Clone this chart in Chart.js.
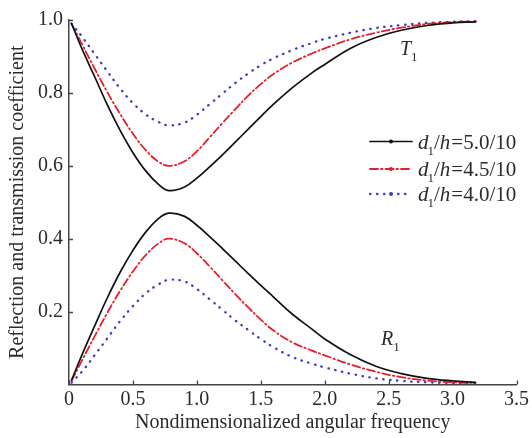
<!DOCTYPE html>
<html>
<head>
<meta charset="utf-8">
<script src="https://cdn.jsdelivr.net/npm/chart.js@4/dist/chart.umd.min.js"></script>
<style>
  body { margin: 0; background: #fff; }
  canvas { display: block; }
</style>
</head>
<body>
<canvas id="coefChart" width="532" height="438"></canvas>
<script>
// frequency samples (x axis)
const freq = [0.02, 0.1, 0.2, 0.3, 0.4, 0.5, 0.6, 0.7, 0.78, 0.9, 1.0, 1.1, 1.2, 1.3,
  1.4, 1.5, 1.6, 1.75, 1.9, 2.0, 2.2, 2.4, 2.6, 2.8, 3.0, 3.18];

// transmission T1
const t50 = [0.99, 0.922, 0.845, 0.767, 0.697, 0.636, 0.586, 0.549, 0.532, 0.541, 0.566, 0.597,
  0.630, 0.665, 0.70, 0.735, 0.769, 0.815, 0.855, 0.878, 0.922, 0.952, 0.972, 0.985, 0.992, 0.995];
const t45 = [0.99, 0.935, 0.867, 0.802, 0.742, 0.688, 0.643, 0.611, 0.600, 0.612, 0.640, 0.678,
  0.717, 0.755, 0.792, 0.824, 0.852, 0.884, 0.908, 0.922, 0.947, 0.965, 0.979, 0.989, 0.994, 0.996];
const t40 = [0.99, 0.955, 0.907, 0.859, 0.812, 0.772, 0.741, 0.720, 0.711, 0.718, 0.740, 0.769,
  0.798, 0.827, 0.853, 0.876, 0.895, 0.918, 0.937, 0.948, 0.965, 0.978, 0.986, 0.992, 0.995, 0.997];

// reflection R1
const r50 = [0.012, 0.08, 0.16, 0.238, 0.308, 0.368, 0.418, 0.455, 0.470, 0.462, 0.437, 0.406,
  0.373, 0.339, 0.305, 0.272, 0.240, 0.192, 0.152, 0.125, 0.082, 0.050, 0.030, 0.017, 0.010, 0.006];
const r45 = [0.01, 0.065, 0.132, 0.197, 0.257, 0.310, 0.355, 0.387, 0.400, 0.388, 0.360, 0.324,
  0.286, 0.248, 0.212, 0.178, 0.148, 0.115, 0.093, 0.080, 0.055, 0.035, 0.020, 0.011, 0.006, 0.004];
const r40 = [0.005, 0.035, 0.08, 0.127, 0.174, 0.215, 0.250, 0.275, 0.287, 0.283, 0.262, 0.234,
  0.205, 0.176, 0.150, 0.125, 0.102, 0.075, 0.057, 0.047, 0.030, 0.017, 0.010, 0.006, 0.004, 0.003];

const xTicks = [0, 0.5, 1.0, 1.5, 2.0, 2.5, 3.0, 3.5];
const yTicks = [0.2, 0.4, 0.6, 0.8, 1.0];
const ratios = ['5.0/10', '4.5/10', '4.0/10'];

const SERIF = '"Liberation Serif", "DejaVu Serif", serif';
const INK = '#2b2b2b';
const styles = [
  { color: '#111111', dash: [], width: 1.7 },
  { color: '#e5202e', dash: [8, 3, 1.5, 3], width: 1.8 },
  { color: '#3a3fc4', dash: [0.5, 6.5], width: 2.3 },
];

const pts = arr => freq.map((x, i) => ({ x: x, y: arr[i] }));

function mkSet(arr, s) {
  return {
    data: pts(arr),
    borderColor: s.color,
    borderDash: s.dash,
    borderWidth: s.width,
    borderCapStyle: 'round',
    pointRadius: 0,
    fill: false,
    tension: 0.4,
  };
}

// inward tick marks, curve labels and the legend
const decorations = {
  id: 'decorations',
  afterDraw(chart) {
    const { ctx, chartArea: a, scales: { x, y } } = chart;
    ctx.save();
    ctx.strokeStyle = '#444';
    ctx.lineWidth = 1.3;
    ctx.beginPath();
    xTicks.forEach(v => {
      const px = Math.round(x.getPixelForValue(v)) + 0.5;
      ctx.moveTo(px, a.bottom);
      ctx.lineTo(px, a.bottom - 4);
    });
    yTicks.forEach(v => {
      const py = Math.round(y.getPixelForValue(v)) + 0.5;
      ctx.moveTo(a.left, py);
      ctx.lineTo(a.left + 4, py);
    });
    ctx.stroke();

    ctx.fillStyle = INK;
    ctx.textBaseline = 'alphabetic';
    const sym = (letter, px, py) => {
      ctx.font = 'italic 20px ' + SERIF;
      ctx.fillText(letter, px, py);
      const w = ctx.measureText(letter).width;
      ctx.font = '13px ' + SERIF;
      ctx.fillText('1', px + w, py + 6);
    };
    sym('T', 400, 55);
    sym('R', 381, 345);

    // legend
    const rowY = [141.5, 169, 194];
    styles.forEach((s, i) => {
      const ly = rowY[i];
      ctx.strokeStyle = s.color;
      ctx.lineWidth = s.width;
      ctx.setLineDash(s.dash);
      ctx.lineCap = 'round';
      ctx.beginPath();
      ctx.moveTo(370, ly);
      ctx.lineTo(412, ly);
      ctx.stroke();
      ctx.setLineDash([]);
      ctx.fillStyle = s.color;
      ctx.beginPath();
      ctx.arc(391, ly, 2, 0, Math.PI * 2);
      ctx.fill();

      ctx.fillStyle = INK;
      let tx = 418;
      const base = ly + 7;
      ctx.font = 'italic 21px ' + SERIF;
      ctx.fillText('d', tx, base);
      tx += ctx.measureText('d').width;
      ctx.font = '13px ' + SERIF;
      ctx.fillText('1', tx - 1, base + 6);
      tx += ctx.measureText('1').width - 1;
      ctx.font = '21px ' + SERIF;
      ctx.fillText('/', tx, base);
      tx += ctx.measureText('/').width;
      ctx.font = 'italic 21px ' + SERIF;
      ctx.fillText('h', tx, base);
      tx += ctx.measureText('h').width + 1;
      ctx.font = '21px ' + SERIF;
      ctx.fillText('=' + ratios[i], tx, base);
    });
    ctx.restore();
  },
};

const ctx = document.getElementById('coefChart');
const coefChart = new Chart(ctx, {
  type: 'line',
  data: {
    datasets: [
      mkSet(t50, styles[0]), mkSet(r50, styles[0]),
      mkSet(t45, styles[1]), mkSet(r45, styles[1]),
      mkSet(t40, styles[2]), mkSet(r40, styles[2]),
    ],
  },
  options: {
    responsive: false,
    devicePixelRatio: 1,
    animation: false,
    layout: { padding: { top: 20, right: 14, left: 0, bottom: 0 } },
    plugins: { legend: { display: false }, tooltip: { enabled: false } },
    scales: {
      x: {
        type: 'linear',
        min: 0,
        max: 3.5,
        afterFit: s => { s.height = 53.5; },
        afterBuildTicks: s => { s.ticks = xTicks.map(v => ({ value: v })); },
        ticks: {
          padding: 3,
          color: INK,
          font: { family: SERIF, size: 20 },
          maxRotation: 0,
          callback: v => (v === 0 ? '0' : v.toFixed(1)),
        },
        grid: { drawOnChartArea: false, drawTicks: false },
        border: { display: true, color: '#444', width: 1.5 },
        title: {
          display: true,
          text: 'Nondimensionalized angular frequency',
          color: INK,
          font: { family: SERIF, size: 20 },
          padding: { top: 0, bottom: 3 },
        },
      },
      y: {
        min: 0,
        max: 1,
        afterFit: s => { s.width = 69; },
        afterBuildTicks: s => { s.ticks = yTicks.map(v => ({ value: v })); },
        ticks: {
          padding: 6,
          color: INK,
          font: { family: SERIF, size: 20 },
          callback: v => v.toFixed(1),
        },
        grid: { drawOnChartArea: false, drawTicks: false },
        border: { display: true, color: '#444', width: 1.5 },
        title: {
          display: true,
          text: 'Reflection and transmission coefficient',
          color: INK,
          font: { family: SERIF, size: 20 },
          padding: { top: 6, bottom: 0 },
        },
      },
    },
  },
  plugins: [decorations],
});
</script>
</body>
</html>
